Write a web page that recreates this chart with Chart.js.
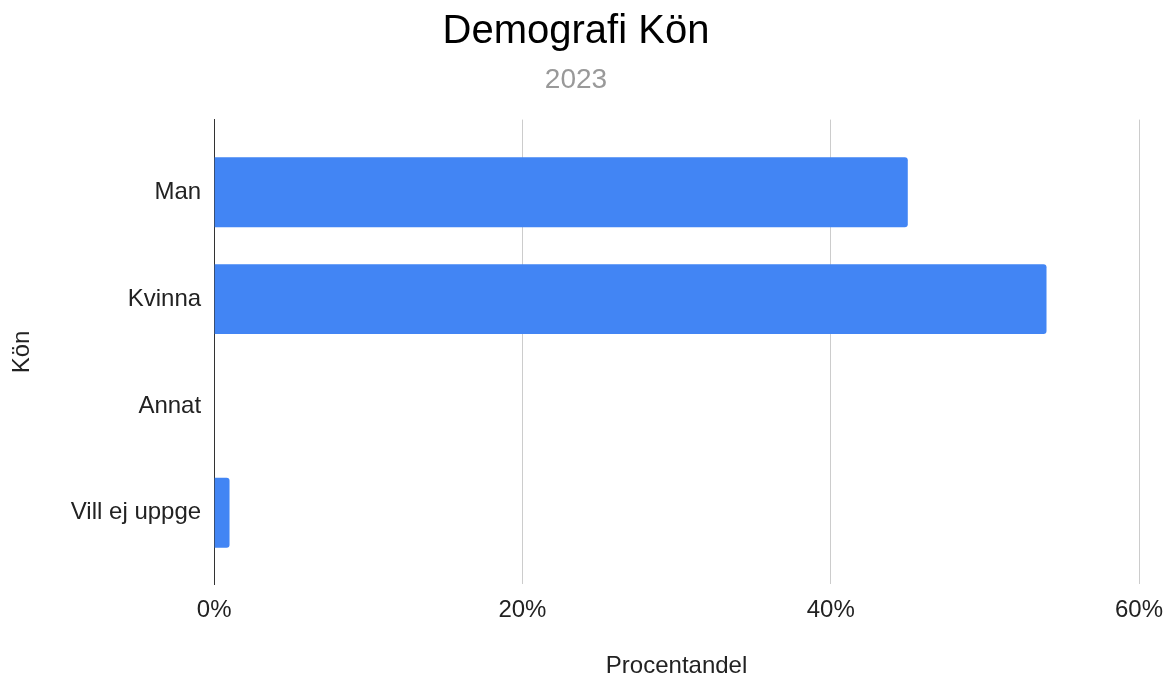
<!DOCTYPE html>
<html>
<head>
<meta charset="utf-8">
<script src="https://cdn.jsdelivr.net/npm/chart.js@4"></script>
<style>
html,body{margin:0;padding:0;background:#fff}
#wrap{width:1170px;height:681px}
</style>
</head>
<body>
<div id="wrap"><canvas id="chart"></canvas></div>
<script>
// data
let categories = ["Man", "Kvinna", "Annat", "Vill ej uppge"]
let shares = [45, 54, 0, 1]
let xTicks = [0, 20, 40, 60]

let font = "'Liberation Sans', Arial, Helvetica, sans-serif"
Chart.defaults.font.family = font
Chart.defaults.color = "#222"

let chart = new Chart(document.getElementById("chart"), {
type: "bar",
data: {
labels: categories,
datasets: [{
label: "Procentandel",
data: shares,
backgroundColor: "#4285f4",
borderRadius: 3,
borderSkipped: "start",
categoryPercentage: 1,
barPercentage: 0.654
}]
},
options: {
indexAxis: "y",
responsive: true,
maintainAspectRatio: false,
animation: false,
layout: { padding: { top: 0, right: 23, bottom: 0, left: 5 } },
plugins: {
legend: { display: false },
tooltip: { enabled: false },
title: {
display: true,
text: "Demografi Kön",
color: "#000",
font: { size: 40, weight: "normal" },
padding: { top: 8, bottom: 4 }
},
subtitle: {
display: true,
text: "2023",
color: "#999",
font: { size: 28, weight: "normal" },
padding: { top: 3, bottom: 23 }
}
},
scales: {
x: {
min: xTicks[0],
max: xTicks[xTicks.length - 1],
afterBuildTicks: (scale) => { scale.ticks = xTicks.map(v => ({ value: v })) },
// leave less room after the last label, like the original
afterFit: (scale) => { scale.paddingRight = 31 },
grid: { color: "#ccc", drawTicks: false },
border: { display: false },
ticks: {
padding: 12,
color: "#222",
font: { size: 24 },
callback: (v) => v + "%"
},
title: {
display: true,
text: "Procentandel",
color: "#222",
font: { size: 24 },
padding: { top: 15, bottom: 0 }
}
},
y: {
grid: { display: false, drawTicks: false },
border: { display: true, color: "#333", width: 1 },
// spread categories like the original: extra room above and below
afterBuildTicks: (scale) => {
scale._startValue = -0.68
scale._valueRange = 4.35
},
ticks: { padding: 13, color: "#222", font: { size: 24 } },
title: {
display: true,
text: "Kön",
color: "#222",
font: { size: 24 },
padding: { top: 3, bottom: 21 }
}
}
}
}
})
</script>
</body>
</html>
